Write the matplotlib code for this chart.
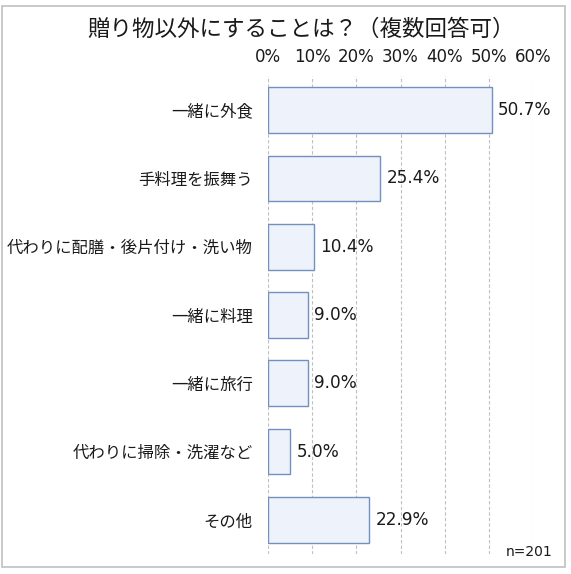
import matplotlib
matplotlib.use("Agg")
import matplotlib.pyplot as plt
from matplotlib.patches import Rectangle

plt.rcParams['font.family'] = ['Noto Sans CJK JP', 'DejaVu Sans']
NUM_FONT = ['DejaVu Sans', 'Noto Sans CJK JP']

categories = ["一緒に外食", "手料理を振舞う", "代わりに配膳・後片付け・洗い物",
              "一緒に料理", "一緒に旅行", "代わりに掃除・洗濯など", "その他"]
values = [50.7, 25.4, 10.4, 9.0, 9.0, 5.0, 22.9]
ticks = [0, 10, 20, 30, 40, 50, 60]
tick_labels = ["0%", "10%", "20%", "30%", "40%", "50%", "60%"]
title = "贈り物以外にすることは？（複数回答可）"
note = "n=201"

fig = plt.figure(figsize=(5.71, 5.74), dpi=100)
fig.patches.append(Rectangle((0.0035, 0.0122), 0.986, 0.977, transform=fig.transFigure,
                             fill=False, edgecolor="#c0c0c0", linewidth=1.2))
ax = fig.add_axes([0.4694, 0.0348, 0.4641, 0.8328])

y = list(range(len(categories)))
ax.barh(y, values, height=0.67, color="#edf2fb", edgecolor="#7391c0", linewidth=1.0, zorder=3)
for yi, v in zip(y, values):
    ax.text(v + 1.4, yi, f"{v:.1f}%", va="center", ha="left", fontsize=12.2,
            family=NUM_FONT, color="#1a1a1a")

ax.set_xlim(0, 60)
ax.set_ylim(len(categories) - 0.5, -0.5)
ax.set_yticks(y)
ax.set_yticklabels(categories, fontsize=11.8, color="#1a1a1a")
ax.set_xticks(ticks)
ax.set_xticklabels(tick_labels, fontsize=12, family=NUM_FONT, color="#1a1a1a")
ax.xaxis.tick_top()
ax.tick_params(axis="x", length=0, pad=7)
ax.tick_params(axis="y", length=0, pad=11)
ax.grid(axis="x", linestyle=(0, (3, 2)), color="#bfbfbf", linewidth=0.8, zorder=0)
for s in ax.spines.values():
    s.set_visible(False)

fig.text(0.527, 0.949, title, ha="center", va="center", fontsize=16.2, color="#1a1a1a")
fig.text(0.968, 0.038, note, ha="right", va="center", fontsize=10,
         family=NUM_FONT, color="#1a1a1a")

fig.savefig("out.png", dpi=100)
